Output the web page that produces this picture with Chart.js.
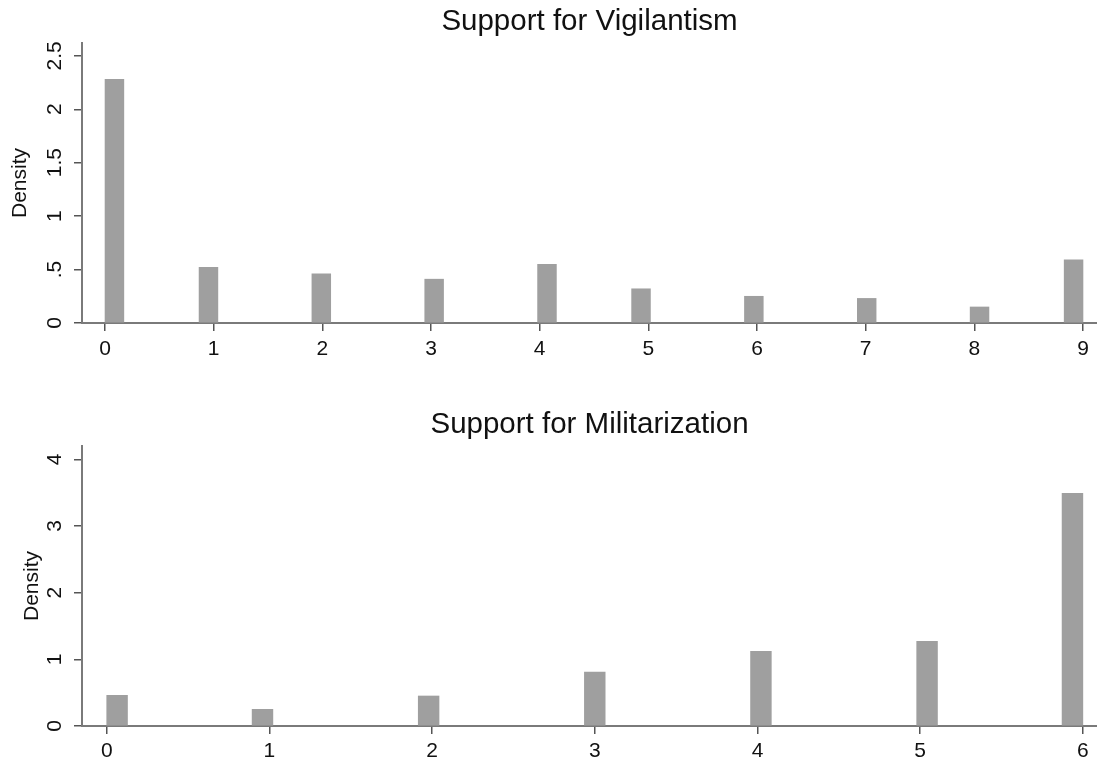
<!DOCTYPE html>
<html>
<head>
<meta charset="utf-8">
<script src="https://cdn.jsdelivr.net/npm/chart.js@4"></script>
<style>
  html, body { margin: 0; padding: 0; background: #fff; }
  #wrap { position: relative; width: 1097px; height: 769px; }
  .panel { position: absolute; left: 0; width: 1097px; }
  #panelTop { top: 0; height: 385px; }
  #panelBottom { top: 385px; height: 384px; }
</style>
</head>
<body>
<div id="wrap">
  <div class="panel" id="panelTop"><canvas id="vigilCanvas"></canvas></div>
  <div class="panel" id="panelBottom"><canvas id="militCanvas"></canvas></div>
</div>
<script>
// Support for vigilantism, 0–9 index
const vigilValues  = [0, 1, 2, 3, 4, 5, 6, 7, 8, 9];
const vigilDensity = [2.28, 0.52, 0.46, 0.41, 0.55, 0.32, 0.25, 0.23, 0.15, 0.59];
const vigilBins    = 52;
const vigilYTicks  = [0, 0.5, 1, 1.5, 2, 2.5];
const vigilYLabels = ['0', '.5', '1', '1.5', '2', '2.5'];

// Support for militarization, 0–6 index
const militValues  = [0, 1, 2, 3, 4, 5, 6];
const militDensity = [0.46, 0.25, 0.45, 0.81, 1.12, 1.27, 3.49];
const militBins    = 47;
const militYTicks  = [0, 1, 2, 3, 4];
const militYLabels = ['0', '1', '2', '3', '4'];

const FONT = "'Liberation Sans', Arial, sans-serif";
const TEXT = '#111111';

// Equal-width bins spanning the observed range; each value falls in bin floor((v - lo) / w)
function binLayout(values, bins) {
  const lo = values[0];
  const hi = values[values.length - 1];
  const width = (hi - lo) / bins;
  const centers = values.map(v => {
    const idx = Math.min(Math.floor((v - lo) / width + 1e-9), bins - 1);
    return lo + (idx + 0.5) * width;
  });
  return { width, centers };
}

// Sets each bar's pixel thickness to one bin width on the linear x scale
const binWidthPlugin = {
  id: 'binWidth',
  afterLayout(chart) {
    const x = chart.scales.x;
    const ds = chart.data.datasets[0];
    ds.barThickness = Math.abs(x.getPixelForValue(ds.binWidth) - x.getPixelForValue(0));
  }
};

function drawHistogram(canvasId, spec) {
  const { width, centers } = binLayout(spec.values, spec.bins);
  const points = centers.map((c, i) => ({ x: c, y: spec.density[i] }));

  const chart = new Chart(document.getElementById(canvasId), {
    type: 'bar',
    data: {
      datasets: [{
        data: points,
        binWidth: width,
        backgroundColor: '#9f9f9f',
        borderWidth: 0,
        barPercentage: 1,
        categoryPercentage: 1
      }]
    },
    options: {
      responsive: true,
      maintainAspectRatio: false,
      animation: false,
      events: [],
      layout: { padding: { top: 0, right: 0, bottom: 0, left: 0 } },
      plugins: {
        legend: { display: false },
        tooltip: { enabled: false },
        title: {
          display: true,
          fullSize: false,
          text: spec.title,
          color: TEXT,
          font: { family: FONT, size: 29.5, weight: 'normal' },
          padding: spec.titlePadding
        }
      },
      scales: {
        x: {
          type: 'linear',
          offset: false,
          min: spec.xMin,
          max: spec.xMax,
          afterBuildTicks: s => { s.ticks = spec.values.map(v => ({ value: v })); },
          afterFit: s => { s.height = spec.xAxisHeight; },
          ticks: {
            autoSkip: false,
            maxRotation: 0,
            padding: spec.xTickPad,
            color: TEXT,
            font: { family: FONT, size: 21 },
            callback: v => String(v)
          },
          grid: { offset: false, drawOnChartArea: false, drawTicks: true, tickLength: 8, color: '#555555', lineWidth: 1.5 },
          border: { display: true, color: '#7a7a7a', width: 2 }
        },
        y: {
          type: 'linear',
          min: 0,
          max: spec.yMax,
          afterBuildTicks: s => { s.ticks = spec.yTicks.map(v => ({ value: v })); },
          afterFit: s => { s.width = 82; },
          ticks: {
            minRotation: 90,
            maxRotation: 90,
            crossAlign: 'center',
            padding: spec.yTickPad,
            color: TEXT,
            font: { family: FONT, size: 21 },
            callback: (v, i) => spec.yLabels[i]
          },
          grid: { drawOnChartArea: false, drawTicks: true, tickLength: 8, color: '#555555', lineWidth: 1.5 },
          border: { display: true, color: '#7a7a7a', width: 2 },
          title: {
            display: true,
            text: 'Density',
            color: TEXT,
            font: { family: FONT, size: 21 },
            padding: { top: spec.yTitlePad, bottom: 0 }
          }
        }
      }
    },
    plugins: [binWidthPlugin]
  });
  chart.update('none');
  return chart;
}

drawHistogram('vigilCanvas', {
  title: 'Support for Vigilantism',
  values: vigilValues,
  density: vigilDensity,
  bins: vigilBins,
  yTicks: vigilYTicks,
  yLabels: vigilYLabels,
  xMin: -0.212, xMax: 9.129,
  yMax: 2.62,
  titlePadding: { top: 3.8, bottom: 3.8 },
  xAxisHeight: 62,
  xTickPad: 6,
  yTickPad: 4.4,
  yTitlePad: 7.8
});

drawHistogram('militCanvas', {
  title: 'Support for Militarization',
  values: militValues,
  density: militDensity,
  bins: militBins,
  yTicks: militYTicks,
  yLabels: militYLabels,
  xMin: -0.152, xMax: 6.087,
  yMax: 4.2,
  titlePadding: { top: 22.3, bottom: 3.3 },
  xAxisHeight: 43,
  xTickPad: 5,
  yTickPad: 13.2,
  yTitlePad: 20.1
});
</script>
</body>
</html>
